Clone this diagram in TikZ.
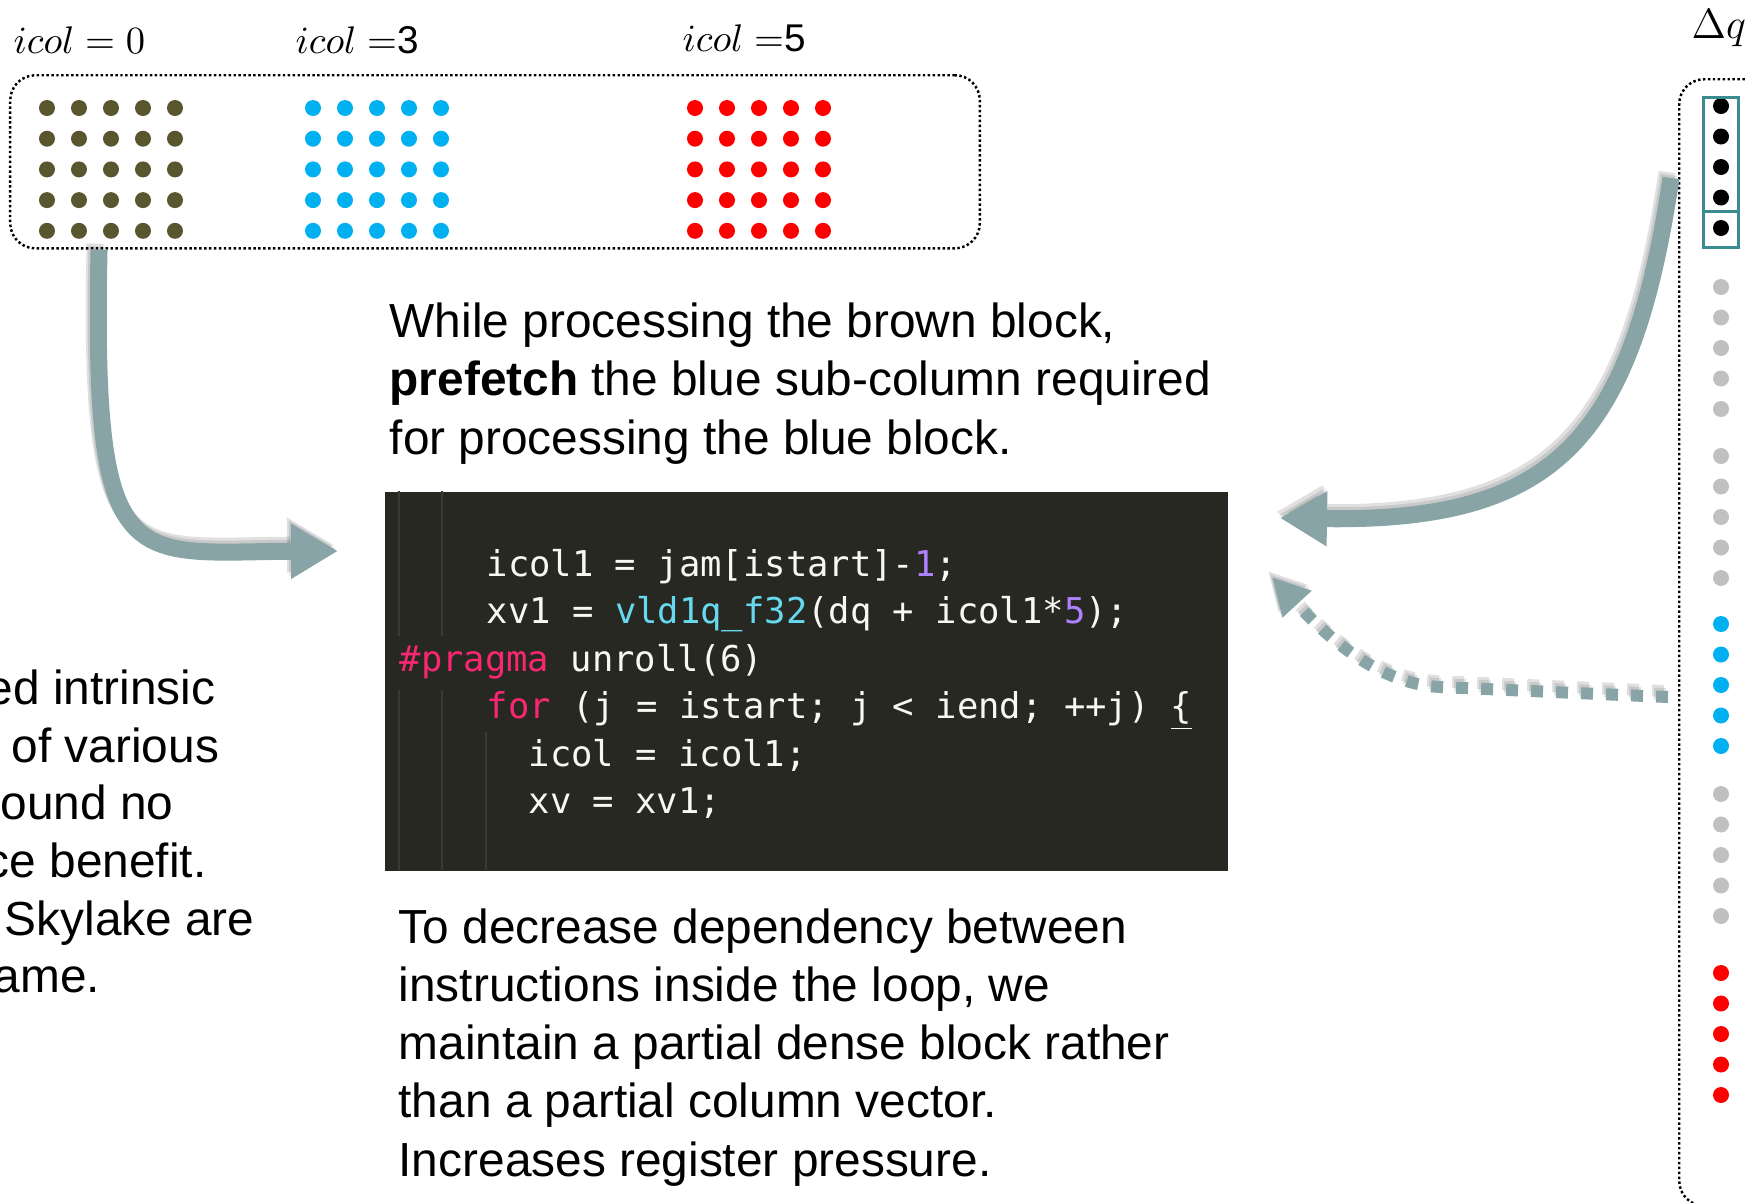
\documentclass[tikz,border=0pt]{standalone}
\usepackage{fontspec}
\setmainfont{Liberation Sans}
\newfontfamily\codefont{DejaVu Sans Mono}
\definecolor{brownblk}{HTML}{59562F}
\definecolor{blueblk}{HTML}{00B0F0}
\definecolor{redblk}{HTML}{FF0000}
\definecolor{grayblk}{HTML}{C0C0C0}
\definecolor{arrowgray}{HTML}{88A4A7}
\definecolor{boxteal}{HTML}{3A8C90}
\definecolor{codebg}{HTML}{272822}
\definecolor{codefg}{HTML}{F8F8F2}
\definecolor{codekw}{HTML}{F92672}
\definecolor{codefn}{HTML}{66D9EF}
\definecolor{codenum}{HTML}{AE81FF}
\definecolor{codeguide}{HTML}{3B3A32}
\usetikzlibrary{arrows.meta}
\newcommand{\kwd}[1]{\textcolor{codekw}{#1}}
\newcommand{\fnc}[1]{\textcolor{codefn}{#1}}
\newcommand{\numb}[1]{\textcolor{codenum}{#1}}
\newcommand{\bodysize}{\fontsize{13.6}{16.5}\selectfont}

\begin{document}
\begin{tikzpicture}[x=0.01cm, y=-0.01cm,
  dotbox/.style={draw, line width=0.7pt, dash pattern=on 0.7pt off 0.7pt, rounded corners=0.25cm, inner sep=0pt},
  fatarrow/.style={draw=arrowgray, line width=0.17cm, -{Triangle[length=0.47cm, width=0.52cm]}},
  dotarrow/.style={draw=arrowgray, line width=0.12cm, dash pattern=on 0.12cm off 0.13cm, -{Triangle[length=0.37cm, width=0.37cm]}},
  shadowed/.style={draw=black, opacity=#1},
  codeline/.style={anchor=base west, inner sep=0pt, text=codefg, font=\codefont\fontsize{10.1}{12}\selectfont},
  label/.style={anchor=base west, inner sep=0pt, font=\fontsize{11}{13}\selectfont}]
  \path[use as bounding box, clip] (0,0) rectangle (1747,1202);

  \node[label] (col0) at (13,53) {$icol = 0$};
  \node[label] (col3) at (295,53) {$icol =$3};
  \node[label] (col5) at (682,51) {$icol =$5};
  \node[label, font=\fontsize{12.5}{14}\selectfont] (dq) at (1691,38) {$\Delta q$};

  \node[dotbox, anchor=north west, minimum width=9.69cm, minimum height=1.73cm] (blocks) at (9,74) {};
  \foreach \c/\x in {brownblk/47, blueblk/313, redblk/695}
    \foreach \i in {0,...,4}
      \foreach \j in {0,...,4}
        \fill[\c] ({\x+32*\i},{108+30.7*\j}) circle[radius=0.08cm];

  \node[dotbox, anchor=north west, minimum width=1.2cm, minimum height=11.26cm] (dqbox) at (1678,78) {};
  \foreach \c/\y in {black/106, grayblk/287, grayblk/456, blueblk/624, grayblk/794, redblk/973}
    \foreach \k in {0,...,4}
      \fill[\c] (1721,{\y+30.5*\k}) circle[radius=0.08cm];
  \draw[boxteal, line width=0.85pt] (1703,97) rectangle (1738,211) (1703,211) rectangle (1738,247);

  \node[anchor=base west, align=left, inner sep=0pt, font=\bodysize] (note1) at (389,454)
    {While processing the brown block,\\\textbf{prefetch} the blue sub-column required\\for processing the blue block.};

  \node[fill=codebg, anchor=north west, minimum width=8.43cm, minimum height=3.79cm, inner sep=0pt] (code) at (384,491) {};
  \draw[codeguide, line width=0.4pt] (399,491) -- (399,636) (399,690) -- (399,870)
    (442,491) -- (442,636) (442,690) -- (442,870) (486,732) -- (486,870);
  \node[codeline] (c1) at (486,576) {icol1 = jam[istart]-\numb{1};};
  \node[codeline] (c2) at (486,623) {xv1 = \fnc{vld1q\_f32}(dq + icol1*\numb{5});};
  \node[codeline] (c3) at (399,671) {\kwd{\#pragma} unroll(6)};
  \node[codeline] (c4) at (486,718) {\kwd{for} (j = istart; j < iend; ++j) \underline{\{}};
  \node[codeline] (c5) at (528,766) {icol = icol1;};
  \node[codeline] (c6) at (528,813) {xv = xv1;};

  \node[anchor=base west, align=left, inner sep=0pt, font=\bodysize] (note2) at (398,1176)
    {To decrease dependency between\\instructions inside the loop, we\\maintain a partial dense block rather\\than a partial column vector.\\Increases register pressure.};

  \foreach \i/\x/\y/\txt in {1/-14/704/ed intrinsic, 2/11/762/of various, 3/0/819/ound no,
    4/-15/877/ce benefit., 5/4/935/Skylake are, 6/-7/992/ame.}
    \node[anchor=base west, inner sep=0pt, font=\bodysize] (left\i) at (\x,\y) {\txt};

  \coordinate (pin1) at (338,551);
  \coordinate (src2) at (1671,178);
  \coordinate (pin2) at (1280,518);
  \coordinate (src3) at (1668,697);
  \coordinate (bend3) at (1440,687);
  \coordinate (pin3) at (1272,577);
  \foreach \dx/\dy/\op in {-2/-3/0.10, -4/-6/0.12} {
    \begin{scope}[transform canvas={shift={(\dx,\dy)}}]
      \draw[fatarrow, shadowed=\op] ([xshift=0.9cm]blocks.south west) .. controls (92,580) and (130,552) .. (pin1);
      \draw[fatarrow, shadowed=\op] (src2) .. controls (1632,440) and (1555,522) .. (pin2);
      \draw[dotarrow, shadowed=\op] (src3) -- (bend3) .. controls (1380,684) and (1330,640) .. (pin3);
    \end{scope}
  }
  \draw[fatarrow] ([xshift=0.9cm]blocks.south west) .. controls (92,580) and (130,552) .. (pin1);
  \draw[fatarrow] (src2) .. controls (1632,440) and (1555,522) .. (pin2);
  \draw[dotarrow] (src3) -- (bend3) .. controls (1380,684) and (1330,640) .. (pin3);
\end{tikzpicture}
\end{document}
